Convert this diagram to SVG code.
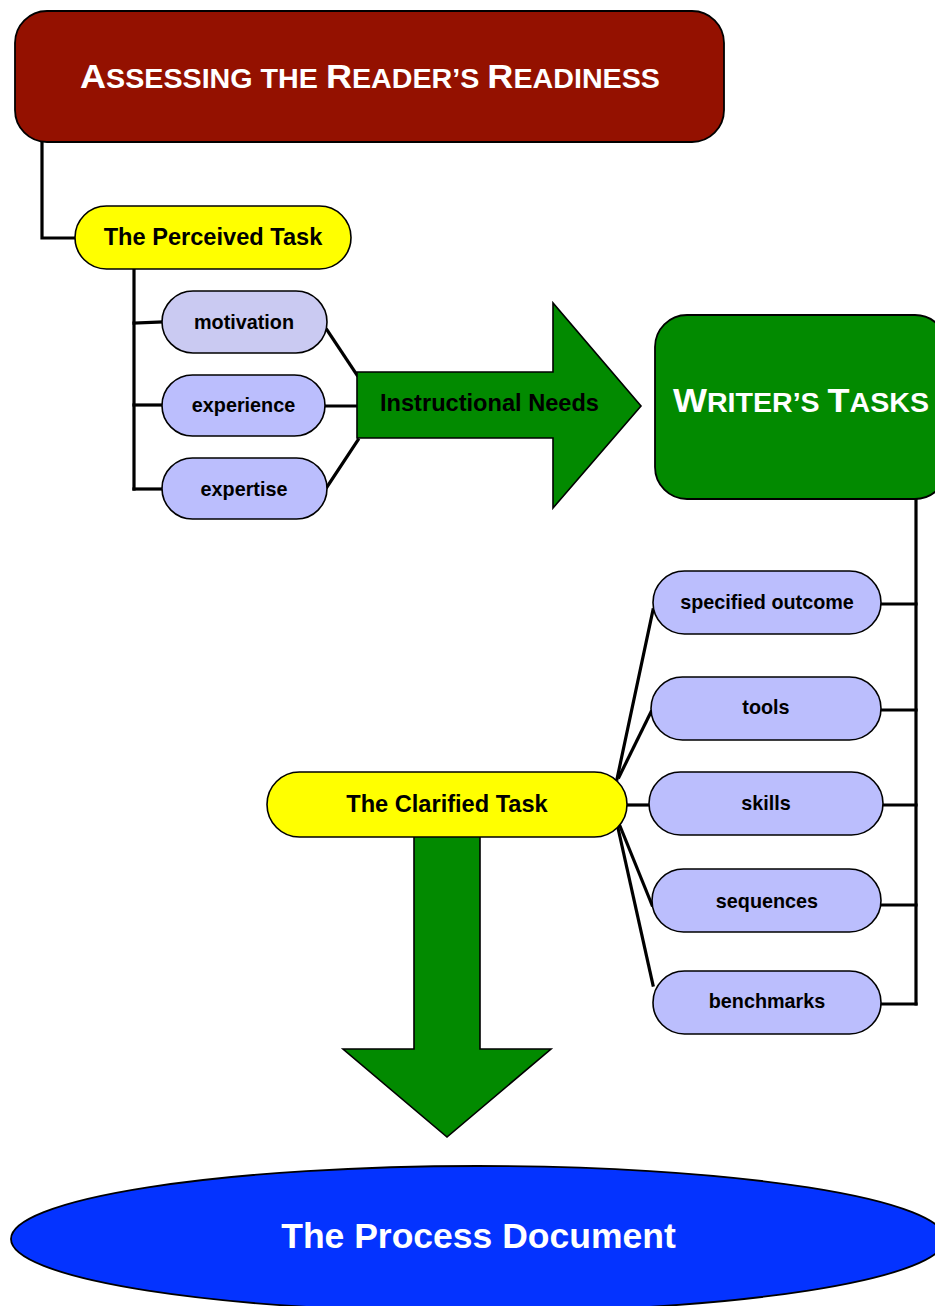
<svg xmlns="http://www.w3.org/2000/svg" width="935" height="1306" viewBox="0 0 935 1306">
<style>
.conn{fill:none;stroke:#000;stroke-width:3.2;stroke-linecap:square}
.box{stroke:#000;stroke-width:1.8}
.yel{fill:#FFFF00;stroke:#000;stroke-width:1.6}
.lav{fill:#BBBEFD;stroke:#000;stroke-width:1.6}
.lav2{fill:#CACAF2;stroke:#000;stroke-width:1.6}
.grn{fill:#028A00;stroke:#000;stroke-width:1.6}
.t{font-family:"Liberation Sans",Arial,sans-serif;font-weight:bold;text-anchor:middle}
.big{font-size:23.6px;fill:#000}
.sm{font-size:19.8px;fill:#000}
.wht{fill:#fff}
</style>
<rect width="935" height="1306" fill="#fff"/>
<g id="connectors">
  <polyline class="conn" points="42,143 42,238 74,238"/>
  <line class="conn" x1="134" y1="270" x2="134" y2="489"/>
  <line class="conn" x1="134" y1="323" x2="162" y2="322"/>
  <line class="conn" x1="134" y1="405" x2="162" y2="405"/>
  <line class="conn" x1="134" y1="489" x2="162" y2="489"/>
  <line class="conn" x1="327" y1="330" x2="357" y2="375"/>
  <line class="conn" x1="325" y1="406" x2="357" y2="406"/>
  <line class="conn" x1="327" y1="487" x2="358" y2="440"/>
  <line class="conn" x1="916" y1="500" x2="916" y2="1004"/>
  <line class="conn" x1="881" y1="604" x2="916" y2="604"/>
  <line class="conn" x1="881" y1="710" x2="916" y2="710"/>
  <line class="conn" x1="883" y1="805" x2="916" y2="805"/>
  <line class="conn" x1="881" y1="905" x2="916" y2="905"/>
  <line class="conn" x1="881" y1="1004" x2="916" y2="1004"/>
  <line class="conn" x1="617" y1="779" x2="653" y2="610"/>
  <line class="conn" x1="619" y1="777" x2="651" y2="712"/>
  <line class="conn" x1="627" y1="805" x2="649" y2="805"/>
  <line class="conn" x1="620" y1="826" x2="652" y2="905"/>
  <line class="conn" x1="618" y1="828" x2="653" y2="985"/>
</g>
<g id="title">
  <rect class="box" x="15" y="11" width="709" height="131" rx="32" fill="#941100"/>
  <text class="t wht" x="370" y="88" textLength="580" lengthAdjust="spacingAndGlyphs"><tspan font-size="34">A</tspan><tspan font-size="27">SSESSING THE </tspan><tspan font-size="34">R</tspan><tspan font-size="27">EADER’S </tspan><tspan font-size="34">R</tspan><tspan font-size="27">EADINESS</tspan></text>
</g>
<g id="perceived-task">
  <rect class="yel" x="75" y="206" width="276" height="63" rx="31.5"/>
  <text class="t big" x="213" y="245">The Perceived Task</text>
</g>
<g id="motivation">
  <rect class="lav2" x="162" y="291" width="165" height="62" rx="31"/>
  <text class="t sm" x="244" y="329">motivation</text>
</g>
<g id="experience">
  <rect class="lav" x="162" y="375" width="163" height="61" rx="30.5"/>
  <text class="t sm" x="243.5" y="412">experience</text>
</g>
<g id="expertise">
  <rect class="lav" x="162" y="458" width="165" height="61" rx="30.5"/>
  <text class="t sm" x="244" y="496">expertise</text>
</g>
<g id="instructional-needs">
  <polygon class="grn" points="357,372 553,372 553,303 641,406 553,508 553,438 357,438"/>
  <text class="t big" x="489.5" y="411">Instructional Needs</text>
</g>
<g id="writers-tasks">
  <rect class="box" x="655" y="315" width="292" height="184" rx="32" fill="#028A00"/>
  <text class="t wht" x="801" y="412" textLength="256" lengthAdjust="spacingAndGlyphs"><tspan font-size="34">W</tspan><tspan font-size="27">RITER’S </tspan><tspan font-size="34">T</tspan><tspan font-size="27">ASKS</tspan></text>
</g>
<g id="specified-outcome">
  <rect class="lav" x="653" y="571" width="228" height="63" rx="31.5"/>
  <text class="t sm" x="767" y="609">specified outcome</text>
</g>
<g id="tools">
  <rect class="lav" x="651" y="677" width="230" height="63" rx="31.5"/>
  <text class="t sm" x="766" y="714">tools</text>
</g>
<g id="skills">
  <rect class="lav" x="649" y="772" width="234" height="63" rx="31.5"/>
  <text class="t sm" x="766" y="810">skills</text>
</g>
<g id="sequences">
  <rect class="lav" x="652" y="869" width="229" height="63" rx="31.5"/>
  <text class="t sm" x="767" y="908">sequences</text>
</g>
<g id="benchmarks">
  <rect class="lav" x="653" y="971" width="228" height="63" rx="31.5"/>
  <text class="t sm" x="767" y="1008">benchmarks</text>
</g>
<g id="down-arrow">
  <polygon class="grn" points="414,836 480,836 480,1049 551,1049 447,1137 343,1049 414,1049"/>
</g>
<g id="clarified-task">
  <rect class="yel" x="267" y="772" width="360" height="65" rx="32.5"/>
  <text class="t big" x="447" y="812">The Clarified Task</text>
</g>
<g id="process-document">
  <ellipse cx="478" cy="1239" rx="467" ry="73" fill="#0433FF" stroke="#000" stroke-width="1.8"/>
  <text class="t wht" x="478.5" y="1248" font-size="35.5">The Process Document</text>
</g>
</svg>
